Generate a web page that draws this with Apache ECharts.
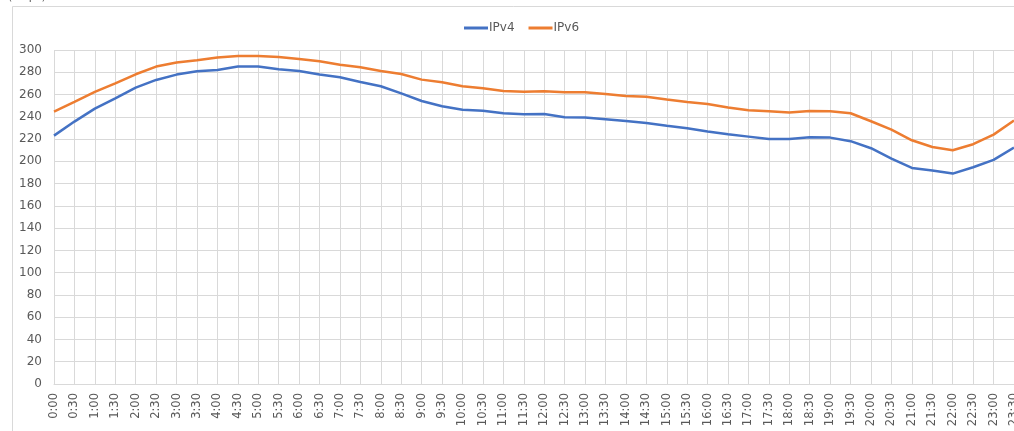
<!DOCTYPE html>
<html>
<head>
<meta charset="utf-8">
<script src="https://cdn.jsdelivr.net/npm/echarts@6/dist/echarts.min.js"></script>
<style>
html,body{margin:0;padding:0;background:#fff;overflow:hidden;}
#main{width:1014px;height:431px;}
</style>
</head>
<body>
<div id="main"></div>
<script>
const categories = ['0:00','0:30','1:00','1:30','2:00','2:30','3:00','3:30','4:00','4:30','5:00','5:30','6:00','6:30','7:00','7:30','8:00','8:30','9:00','9:30','10:00','10:30','11:00','11:30','12:00','12:30','13:00','13:30','14:00','14:30','15:00','15:30','16:00','16:30','17:00','17:30','18:00','18:30','19:00','19:30','20:00','20:30','21:00','21:30','22:00','22:30','23:00','23:30'];
const ipv4 = [223.1,235.7,247.3,256.6,266.2,273.1,277.9,280.9,282.1,285.1,285.1,282.7,281.2,277.9,275.5,271.3,267.4,261.1,254.2,249.5,246.4,245.5,243.2,242.3,242.6,239.6,239.3,237.8,236.3,234.5,232,229.7,226.7,224.3,222.2,220.1,220.1,221.6,221.3,218.1,211.8,202.5,194.1,191.7,189,194.7,201.3,212.3];
const ipv6 = [244.7,253.3,262.3,270.1,278.2,285.1,288.7,290.8,293.2,294.6,294.6,293.7,292,289.9,286.8,284.5,281.2,278.5,273.4,271,267.4,265.6,263.2,262.6,262.9,262,262,260.5,258.7,258.1,255.5,253.3,251.5,248.3,245.9,245,243.8,245.3,245,243.2,236,228.5,218.9,212.9,210,215.4,224,236.6];
const yTicks = {min:0, max:300, interval:20};

const chart = echarts.init(document.getElementById('main'), null, {renderer:'canvas'});
const font = 'DejaVu Sans';
chart.setOption({
  animation:false,
  backgroundColor:'#fff',
  textStyle:{fontFamily:font},
  graphic:[
    {type:'rect', shape:{x:12.5,y:6.5,width:1100,height:500}, style:{fill:'none',stroke:'#d9d9d9',lineWidth:1}, z:-1},
    {type:'text', x:8, y:3, style:{text:'(Mbps)', fill:'#595959', font:'11px "DejaVu Sans"', textVerticalAlign:'bottom'}}
  ],
  legend:{
    top:17, left:459,
    itemWidth:24, itemHeight:3, itemGap:14,
    icon:'rect',
    textStyle:{color:'#595959', fontSize:12, fontFamily:font, padding:[0,0,0,-4]},
    data:['IPv4','IPv6']
  },
  grid:{left:54, right:0, top:50, bottom:47, containLabel:false, outerBoundsMode:'none'},
  xAxis:{
    type:'category', data:categories, boundaryGap:false,
    axisLine:{show:true, lineStyle:{color:'#d9d9d9'}},
    axisTick:{show:false},
    splitLine:{show:true, interval:0, lineStyle:{color:'#d9d9d9'}},
    axisLabel:{interval:0, rotate:90, color:'#595959', fontSize:11.5, fontFamily:font, margin:9, hideOverlap:false}
  },
  yAxis:{
    type:'value', min:yTicks.min, max:yTicks.max, interval:yTicks.interval,
    axisLine:{show:false}, axisTick:{show:false},
    splitLine:{lineStyle:{color:'#d9d9d9'}},
    axisLabel:{color:'#595959', fontSize:12, fontFamily:font, margin:12}
  },
  series:[
    {name:'IPv4', type:'line', data:ipv4, symbol:'none', lineStyle:{color:'#4472C4', width:2.5}, itemStyle:{color:'#4472C4'}},
    {name:'IPv6', type:'line', data:ipv6, symbol:'none', lineStyle:{color:'#ED7D31', width:2.5}, itemStyle:{color:'#ED7D31'}}
  ]
});
</script>
</body>
</html>
